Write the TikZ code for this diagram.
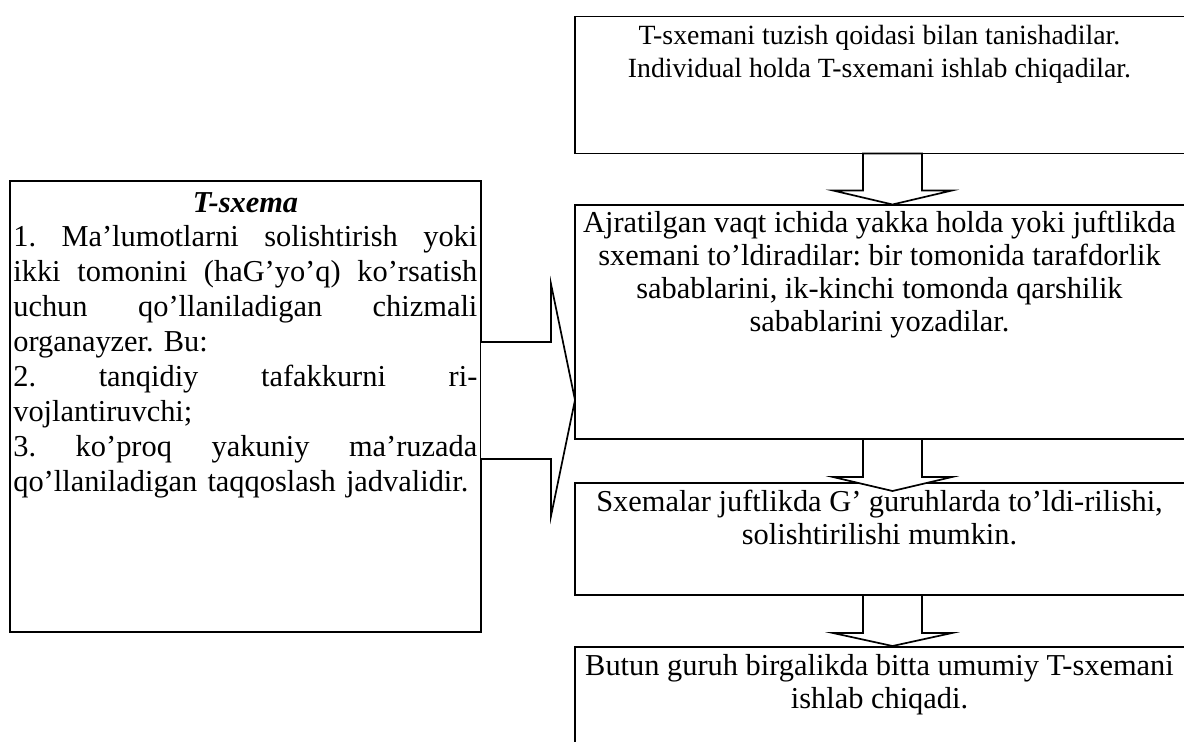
\documentclass[tikz,border=0pt]{standalone}
\usepackage{fontspec}
\setmainfont{Liberation Serif}
\newlength\leftw
\setlength\leftw{464pt}
\newcommand\jl[1]{\leavevmode\hbox to \leftw{#1}}
\begin{document}
\frenchspacing
\begin{tikzpicture}[x=1pt,y=-1pt,line width=1.7pt,
  box/.style={draw,rectangle,inner sep=0pt,outer sep=0pt,anchor=north west},
  txt/.style={inner sep=0pt,outer sep=0pt,anchor=north,align=center},
  fa/.style={font=\fontsize{27.8}{33}\selectfont\frenchspacing},
  fb/.style={font=\fontsize{30.4}{33}\selectfont\frenchspacing},
  fl/.style={font=\fontsize{30.4}{35}\selectfont\frenchspacing},
  blockarrow/.style={draw,fill=white,line join=miter}]
\useasboundingbox (0,0) rectangle (1184,742);
\clip (0,0) rectangle (1184,742);
% boxes
\node[box,minimum width=471pt,minimum height=451pt] (lb) at (10,181) {};
\node[box,minimum width=620pt,minimum height=137pt] (b1) at (575,16.5) {};
\node[box,minimum width=620pt,minimum height=234pt] (b2) at (575,205) {};
\node[box,minimum width=620pt,minimum height=112pt] (b3) at (575,483) {};
\node[box,minimum width=620pt,minimum height=130pt] (b4) at (575,647) {};
% down arrows
\draw[blockarrow] ([xshift=288pt]b1.south west) -- ++(0,37) -- ++(-30,0) -- ++(59.5,14) -- ++(59.5,-14) -- ++(-30,0) -- ++(0,-37) -- cycle;
\draw[blockarrow] ([xshift=288pt]b2.south west) -- ++(0,38) -- ++(-30,0) -- ++(59.5,14) -- ++(59.5,-14) -- ++(-30,0) -- ++(0,-38) -- cycle;
\draw[blockarrow] ([xshift=288pt]b3.south west) -- ++(0,38) -- ++(-30,0) -- ++(59.5,13) -- ++(59.5,-13) -- ++(-30,0) -- ++(0,-38) -- cycle;
% big right arrow
\draw[blockarrow] (lb.east |- 0,342) -- (551,342) -- (551,284) -- (b2.west |- 0,400) -- (551,516) -- (551,459) -- (lb.east |- 0,459);
% texts right
\node[txt,fa,yshift=-5pt] (t1) at (879.5,16.5) {\strut T-sxemani tuzish qoidasi bilan tanishadilar.\\Individual holda T-sxemani ishlab chiqadilar.};
\node[txt,fb,yshift=-4pt] (t2) at (b2.north -| 879.5,0) {\strut Ajratilgan vaqt ichida yakka holda yoki juftlikda\\sxemani to’ldiradilar: bir tomonida tarafdorlik\\sabablarini, ik-kinchi tomonda qarshilik\\sabablarini yozadilar.};
\node[txt,fb,yshift=-5pt] (t3) at (b3.north -| 879.5,0) {\strut Sxemalar juftlikda G’ guruhlarda to’ldi-rilishi,\\solishtirilishi mumkin.};
\node[txt,fb,yshift=-5pt] (t4) at (b4.north -| 879.5,0) {\strut Butun guruh birgalikda bitta umumiy T-sxemani\\ishlab chiqadi.};
% left box text
\node[anchor=base,inner sep=0pt,font=\fontsize{30.4}{35}\selectfont\bfseries\itshape] (th) at (245.5,212) {T-sxema};
\node[inner sep=0pt,anchor=north west,align=left,text width=\leftw,fl] (tl) at (12.5,221) {\strut\jl{1.\hfill Ma’lumotlarni\hfill solishtirish\hfill yoki}\\
\jl{ikki\hfill tomonini\hfill (haG’yo’q)\hfill ko’rsatish}\\
\jl{uchun\hfill qo’llaniladigan\hfill chizmali}\\
organayzer. Bu:\\
\jl{2.\hfill tanqidiy\hfill tafakkurni\hfill ri-}\\
vojlantiruvchi;\\
\jl{3.\hfill ko’proq\hfill yakuniy\hfill ma’ruzada}\\
qo’llaniladigan taqqoslash jadvalidir.};
\end{tikzpicture}
\end{document}
